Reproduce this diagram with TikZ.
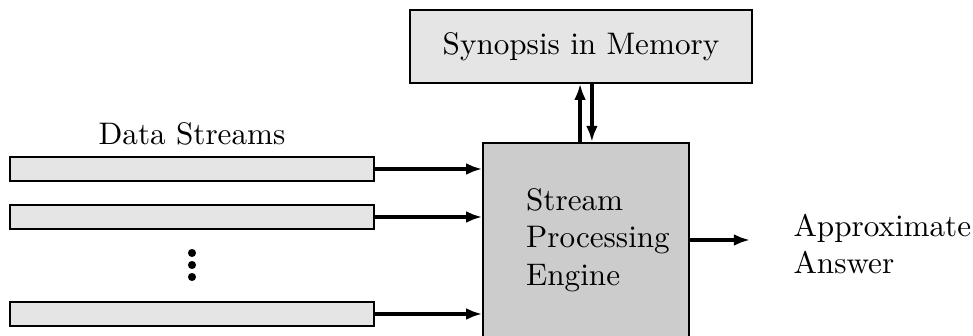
\documentclass[tikz,border=0pt]{standalone}
\usepackage{amsmath}
\usepackage{tikz}
\usetikzlibrary{arrows.meta}
\usepackage{xcolor}

\begin{document}
\begin{tikzpicture}[x=0.321pt,y=-0.321pt,
    box/.style={draw,line width=0.5pt,inner sep=0pt},
    bar/.style={box,fill=black!10,minimum width=116.8pt,minimum height=7.7pt},
    flow/.style={line width=1.35pt,-{Latex[length=5.2pt,width=3.8pt]}}]
    \useasboundingbox (0,0) rectangle (973,336);

    \node[box,fill=black!10,minimum width=109.8pt,minimum height=23.4pt] (mem) at (581,46.5) {Synopsis in Memory};
    \node[box,fill=black!20,minimum width=66.1pt,minimum height=65pt] (eng) at (586,244) {};
    \node[align=left,inner sep=0pt] (engtxt) at (598,240) {Stream\\Processing\\Engine};

    \node (lbl) at (192,134) {Data Streams};
    \node[bar] (s1) at (192,169) {};
    \node[bar] (s2) at (192,217) {};
    \node[bar] (s3) at (192,314) {};
    \fill (192,253) circle (1.3pt) (192,265) circle (1.3pt) (192,277) circle (1.3pt);

    \draw[flow] (s1.east) -- (s1.east -| eng.west);
    \draw[flow] (s2.east) -- (s2.east -| eng.west);
    \draw[flow] (s3.east) -- (s3.east -| eng.west);

    \draw[flow] ([xshift=-1.9pt]eng.north) -- ([xshift=-1.9pt]eng.north |- mem.south);
    \draw[flow] ([xshift=1.9pt]eng.north |- mem.south) -- ([xshift=1.9pt]eng.north);

    \coordinate (out) at (750,240);
    \draw[flow] (eng.east |- engtxt) -- (out);
    \node[anchor=west,align=left,inner sep=0pt] (ans) at (793,244) {Approximate\\Answer};
\end{tikzpicture}
\end{document}
